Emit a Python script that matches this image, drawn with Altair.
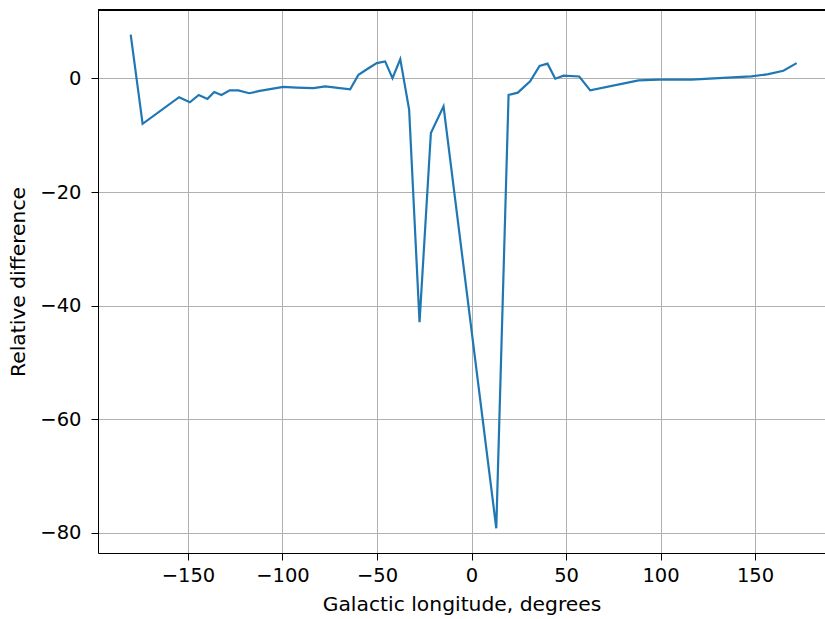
import altair as alt
import pandas as pd

longitude = [-180.3, -174.0, -154.7, -149.0, -144.3, -139.7, -136.1, -132.3, -127.9, -123.4,
             -117.6, -112.0, -99.6, -92.6, -83.6, -77.4, -64.2, -59.8, -54.5, -50.1,
             -45.7, -41.8, -37.7, -33.0, -27.5, -21.5, -14.8, 13.1, 19.6, 24.5,
             31.0, 36.0, 40.2, 44.3, 48.7, 57.0, 62.8, 88.4, 99.0, 116.4,
             130.7, 148.0, 157.0, 165.0, 172.0]
rel_diff = [7.7, -8.0, -3.3, -4.2, -2.9, -3.6, -2.4, -2.9, -2.1, -2.1,
            -2.6, -2.2, -1.5, -1.6, -1.7, -1.4, -1.9, 0.65, 1.8, 2.7,
            3.0, 0.05, 3.4, -5.5, -42.9, -9.6, -4.9, -79.2, -2.9, -2.5,
            -0.5, 2.2, 2.6, -0.05, 0.5, 0.35, -2.1, -0.35, -0.2, -0.2,
            0.05, 0.35, 0.75, 1.35, 2.7]

x_ticks = [-150, -100, -50, 0, 50, 100, 150]
y_ticks = [0, -20, -40, -60, -80]

df = pd.DataFrame({"lon": longitude, "diff": rel_diff})

W, H = 727, 543
FONT = "DejaVu Sans"
FS = 19.5
TFS = 20.3

line = alt.Chart(df).mark_line(color="#1f77b4", strokeWidth=2.2, clip=True).encode(
    x=alt.X("lon:Q", scale=alt.Scale(domain=[-197.6, 187.0], nice=False, zero=False),
            axis=alt.Axis(values=x_ticks, title="Galactic longitude, degrees",
                          titlePadding=10, labelPadding=6)),
    y=alt.Y("diff:Q", scale=alt.Scale(domain=[-83.55, 12.05], nice=False, zero=False),
            axis=alt.Axis(values=y_ticks, title="Relative difference",
                          titlePadding=11, labelPadding=10)),
    order="lon:Q",
)

top_border = alt.Chart(df).mark_rule(color="black", strokeWidth=1).encode(
    x=alt.value(0), x2=alt.value(W), y=alt.value(0)
)

chart = alt.layer(line, top_border).properties(
    width=W, height=H,
    autosize=alt.AutoSizeParams(type="none"),
    padding={"left": 98, "top": 10, "right": 0, "bottom": 66},
    background="white",
).configure_view(stroke=None).configure_axis(
    domainColor="black", domainWidth=1,
    tickColor="black", tickSize=7, tickWidth=1,
    gridColor="#b0b0b0", gridWidth=1,
    labelFont=FONT, labelFontSize=FS, labelColor="black",
    titleFont=FONT, titleFontSize=TFS, titleFontWeight="normal", titleColor="black",
)

chart.save("out.html", embed_options={"renderer": "svg", "actions": False})
